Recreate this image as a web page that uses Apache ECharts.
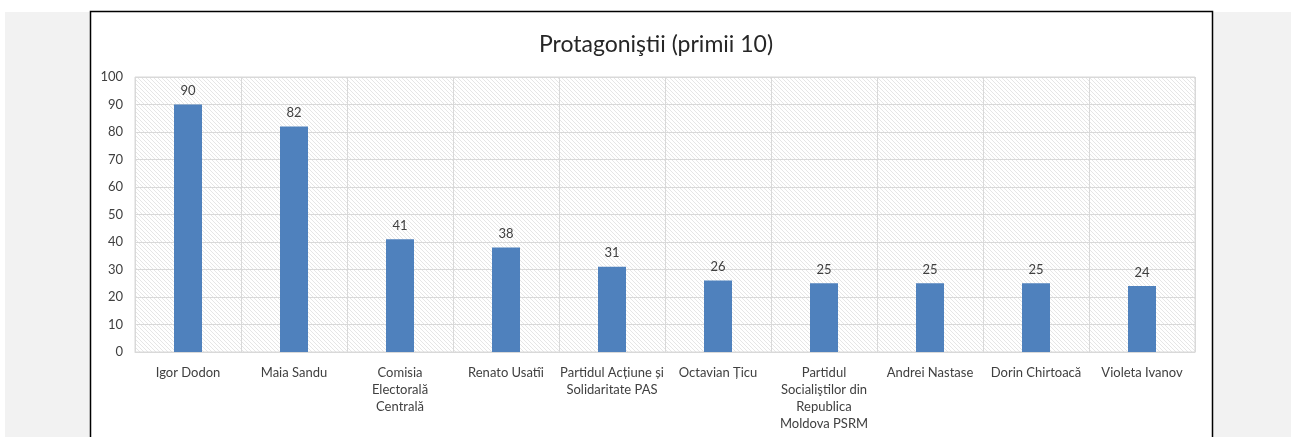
<!DOCTYPE html>
<html>
<head>
<meta charset="utf-8">
<script src="https://cdn.jsdelivr.net/npm/echarts@6/dist/echarts.min.js"></script>
<style>
  html, body { margin: 0; padding: 0; background: #fff; }
  #chart { width: 1291px; height: 437px; }
</style>
</head>
<body>
<div id="chart"></div>
<script>
const categories = [
    'Igor Dodon',
    'Maia Sandu',
    'Comisia\nElectorală\nCentrală',
    'Renato Usatîi',
    'Partidul Acțiune și\nSolidaritate PAS',
    'Octavian Țicu',
    'Partidul\nSocialiştilor din\nRepublica\nMoldova PSRM',
    'Andrei Nastase',
    'Dorin Chirtoacă',
    'Violeta Ivanov'
];
const values = [90, 82, 41, 38, 31, 26, 25, 25, 25, 24];
const titleText = 'Protagoniştii (primii 10)';

const fontFamily = 'Lato, "Open Sans", sans-serif';

// diagonal hatch used for the plot background
function makeHatch() {
    const c = document.createElement('canvas');
    c.width = 4;
    c.height = 4;
    const ctx = c.getContext('2d');
    ctx.fillStyle = '#ffffff';
    ctx.fillRect(0, 0, 4, 4);
    ctx.strokeStyle = '#e6e6e6';
    ctx.lineWidth = 1;
    ctx.beginPath();
    ctx.moveTo(-1, -1);
    ctx.lineTo(5, 5);
    ctx.stroke();
    return c;
}

const chart = echarts.init(document.getElementById('chart'));
chart.setOption({
    backgroundColor: '#ffffff',
    animation: false,
    graphic: [
        {
            type: 'rect', z: -10, silent: true,
            shape: {x: 5, y: 12, width: 1286, height: 425},
            style: {fill: '#f2f2f2'}
        },
        {
            type: 'rect', z: -9, silent: true,
            shape: {x: 90.5, y: 11.5, width: 1122, height: 440},
            style: {fill: '#ffffff', stroke: '#000000', lineWidth: 1.5}
        }
    ],
    title: {
        text: titleText,
        left: 651,
        textAlign: 'center',
        top: 28,
        textStyle: {fontFamily, fontSize: 23, fontWeight: 'normal', color: '#262626'}
    },
    grid: {
        left: 135,
        right: 96,
        top: 77,
        bottom: 85,
        show: true,
        backgroundColor: {image: makeHatch(), repeat: 'repeat'},
        borderColor: '#d9d9d9',
        borderWidth: 1
    },
    xAxis: {
        type: 'category',
        data: categories,
        axisLine: {lineStyle: {color: '#d9d9d9'}},
        axisTick: {show: false},
        splitLine: {show: true, interval: 0, lineStyle: {color: '#d9d9d9', width: 1}},
        axisLabel: {
            interval: 0,
            margin: 12,
            fontFamily,
            fontSize: 13,
            lineHeight: 17,
            color: '#404040',
            align: 'center'
        }
    },
    yAxis: {
        type: 'value',
        min: 0,
        max: 100,
        interval: 10,
        axisLine: {show: false},
        axisTick: {show: false},
        splitLine: {lineStyle: {color: '#d9d9d9', width: 1}},
        axisLabel: {margin: 12, fontFamily, fontSize: 13, color: '#404040'}
    },
    series: [{
        type: 'bar',
        data: values,
        barWidth: 28,
        itemStyle: {color: '#4f81bd'},
        label: {
            show: true,
            position: 'top',
            distance: 7,
            fontFamily,
            fontSize: 13,
            color: '#404040'
        }
    }]
});
</script>
</body>
</html>
